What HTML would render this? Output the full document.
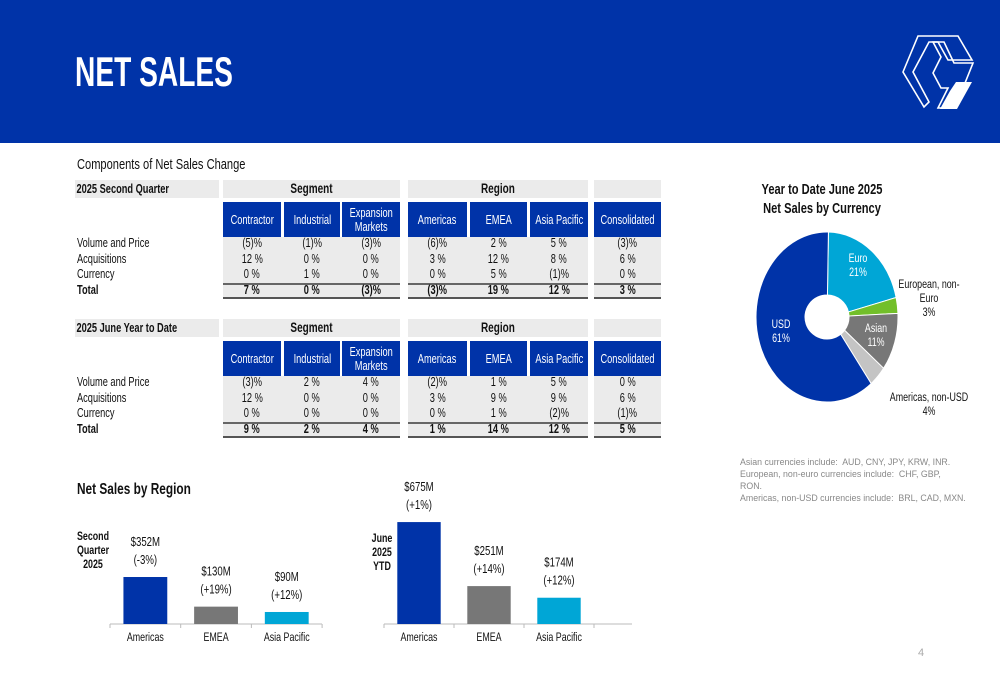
<!DOCTYPE html>
<html><head><meta charset="utf-8">
<style>
*{margin:0;padding:0;box-sizing:border-box}
body{width:1000px;height:685px;background:#fff;position:relative;overflow:hidden;font-family:"Liberation Sans",sans-serif;color:#111}
.a{position:absolute}
.n{display:inline-block;transform:scaleX(0.74);white-space:nowrap}
.nl{display:inline-block;transform:scaleX(0.74);transform-origin:left center;white-space:nowrap}
.hdr{left:0;top:0;width:1000px;height:143px;background:#0033a8}
.title{left:75px;top:48px;font-size:42px;font-weight:bold;color:#fff;transform:scaleX(0.67);transform-origin:left top;white-space:nowrap}
.c{position:absolute;text-align:center;font-size:12.5px;line-height:16px}
.g{background:#ebebeb}
.b{background:#0033a8;color:#fff;display:flex;align-items:center;justify-content:center;text-align:center;font-size:12.5px;line-height:14px}
.lbl{position:absolute;left:77px;font-size:12.5px;line-height:16px}
.foot{left:740px;top:456px;font-size:8.8px;line-height:12px;color:#888;white-space:nowrap}
</style></head><body>
<div class="a hdr"></div>
<div class="a title">NET SALES</div>
<svg class="a" style="left:900px;top:33px" width="75" height="78" viewBox="0 0 75 78">
<polygon points="18,3 58,3 72,27 48,27 38,9 29,9 13,39 29,69 24,74 3,39" fill="none" stroke="#fff" stroke-width="1.6"/>
<polygon points="33,9 44,9 54,30 73,30 55,75 38,75 48,55 41,55 33,40 41,24" fill="none" stroke="#fff" stroke-width="1.6"/>
<polygon points="56,49 72,49 57,76 40,76 50,58" fill="#fff"/>
</svg>
<div class="a" style="left:77px;top:156px;font-size:15px"><span class="nl">Components of Net Sales Change</span></div>
<div id="tables"></div>

<svg class="a" style="left:730px;top:170px" width="270" height="260" id="pie"></svg>
<div class="a foot">Asian currencies include:&nbsp; AUD, CNY, JPY, KRW, INR.<br>European, non-euro currencies include:&nbsp; CHF, GBP,<br>RON.<br>Americas, non-USD currencies include:&nbsp; BRL, CAD, MXN.</div>

<div class="a" style="left:77px;top:481px;font-size:16px;font-weight:bold"><span class="nl">Net Sales by Region</span></div>
<svg class="a" style="left:0;top:470px" width="700" height="190" id="bars"></svg>
<div class="a" style="left:918px;top:647px;font-size:11px;color:#aaa">4</div>

<script>
// ---- table data ----
const colNames=["Contractor","Industrial","Expansion Markets","Americas","EMEA","Asia Pacific","Consolidated"];
const rowNames=["Volume and Price","Acquisitions","Currency","Total"];
const q2Values=[["(5)%","(1)%","(3)%","(6)%","2 %","5 %","(3)%"],["12 %","0 %","0 %","3 %","12 %","8 %","6 %"],["0 %","1 %","0 %","0 %","5 %","(1)%","0 %"],["7 %","0 %","(3)%","(3)%","19 %","12 %","3 %"]];
const ytdValues=[["(3)%","2 %","4 %","(2)%","1 %","5 %","0 %"],["12 %","0 %","0 %","3 %","9 %","9 %","6 %"],["0 %","0 %","0 %","0 %","1 %","(2)%","(1)%"],["9 %","2 %","4 %","1 %","14 %","12 %","5 %"]];
// ---- pie data ----
const pieLabels=["Euro","European, non-Euro","Asian","Americas, non-USD","USD"];
const pieValues=[21,3,11,4,61];
const pieColors=["#00a6d6","#72bf2a","#777777","#c4c4c4","#0033a8"];
// ---- bar data ----
const barCats=["Americas","EMEA","Asia Pacific"];
const q2Sales=[352,130,90];
const q2Change=["(-3%)","(+19%)","(+12%)"];
const ytdSales=[675,251,174];
const ytdChange=["(+1%)","(+14%)","(+12%)"];
const barColors=["#0033a8","#777777","#00a6d6"];

const S=0.74;
const T=document.getElementById('tables');
const cols=[[223,58],[284,56],[342,58],[408,59],[470,57],[530,58],[594,67]];
function n(s){return '<span class="n">'+s+'</span>';}
function mk(cls,l,t,w,h,txt,name,extra){const d=document.createElement('div');d.className=cls;d.style.cssText=`left:${l}px;top:${t}px;width:${w}px;height:${h}px;`+(extra||'');d.innerHTML=txt;


T.appendChild(d);return d;}
function table(y0,title,vals,key){
 mk('a g',75,y0,144,18,`<span class="nl" style="font-size:12.5px;font-weight:bold;line-height:18px;padding-left:2px">${title}</span>`,key+'-title');
 mk('a g c',223,y0,177,18,'<b style="font-size:13.5px;line-height:18px">'+n('Segment')+'</b>',key+'-segment-header','line-height:18px');
 mk('a g c',408,y0,180,18,'<b style="font-size:13.5px;line-height:18px">'+n('Region')+'</b>',key+'-region-header','line-height:18px');
 mk('a g c',594,y0,67,18,'',key+'-consolidated-header-blank');
 colNames.forEach((nm,i)=>{const txt=nm==="Expansion Markets"?n("Expansion<br>Markets"):n(nm);
  mk('a b',cols[i][0],y0+22,cols[i][1],35,txt,key+'-col-'+nm.toLowerCase().replace(/ /g,'-'));});
 [[223,177],[408,180],[594,67]].forEach((g,j)=>{mk('a g',g[0],y0+57,g[1],60,'',key+'-data-bg-'+j);
   mk('a',g[0],y0+103,g[1],1,'',key+'-total-line-top-'+j,'background:#666;height:1.5px');
   mk('a',g[0],y0+117,g[1],1,'',key+'-total-line-bottom-'+j,'background:#555;height:2px');});
 rowNames.forEach((r,ri)=>{const y=y0+55+ri*15.5;
  const d=document.createElement('div');d.className='lbl';d.style.top=y+'px';d.style.fontWeight=ri==3?'bold':'normal';d.innerHTML='<span class="nl">'+r+'</span>';
  
  
  T.appendChild(d);
  vals[ri].forEach((v,ci)=>{mk('c',cols[ci][0],y,cols[ci][1],16,n(v),key+'-cell',ri==3?'font-weight:bold':'');});
 });
}
table(180,'2025 Second Quarter',q2Values,'q2');
table(319,'2025 June Year to Date',ytdValues,'ytd');

const NS='http://www.w3.org/2000/svg';
function stext(parent,x,y,s,fs,fill,bold,name){const e=document.createElementNS(NS,'text');
 e.setAttribute('x',x);e.setAttribute('y',y);e.setAttribute('text-anchor','middle');
 e.setAttribute('font-size',fs);e.setAttribute('fill',fill);e.setAttribute('font-family','Liberation Sans,sans-serif');
 if(bold)e.setAttribute('font-weight','bold');
 e.setAttribute('transform',`matrix(${S},0,0,1,${x*(1-S)},0)`);
 e.textContent=s;
 
 
 parent.appendChild(e);}

// pie
const P=document.getElementById('pie');
stext(P,92,24,'Year to Date June 2025',15,'#111',1,'pie-title-line1');
stext(P,92,43,'Net Sales by Currency',15,'#111',1,'pie-title-line2');
const cx=97,cy=147,rx=71,ry=85,hr=22;
const total=pieValues.reduce((a,b)=>a+b,0);
let ang=0.02;
pieValues.forEach((v,i)=>{
 const a0=ang,a1=ang+v/total*2*Math.PI;ang=a1;
 const pt=(a,r1,r2)=>[cx+r1*Math.sin(a),cy-r2*Math.cos(a)];
 const [x0,y0]=pt(a0,rx,ry),[x1,y1]=pt(a1,rx,ry),[h0x,h0y]=pt(a1,hr,hr),[h1x,h1y]=pt(a0,hr,hr);
 const lg=(a1-a0)>Math.PI?1:0;
 const p=document.createElementNS(NS,'path');
 p.setAttribute('d',`M${x0},${y0} A${rx},${ry} 0 ${lg} 1 ${x1},${y1} L${h0x},${h0y} A${hr},${hr} 0 ${lg} 0 ${h1x},${h1y} Z`);
 p.setAttribute('fill',pieColors[i]);p.setAttribute('stroke','#fff');p.setAttribute('stroke-width','1');
 
 
 P.appendChild(p);
});
const pieText=[[128,92,["Euro","21%"],"#fff"],[199,118,["European, non-","Euro","3%"],"#111"],[146,162,["Asian","11%"],"#fff"],[199,231,["Americas, non-USD","4%"],"#111"],[51,158,["USD","61%"],"#fff"]];
pieText.forEach((t,i)=>{t[2].forEach((s,k)=>stext(P,t[0],t[1]+k*14,s,12,t[3],0,'pie-label-'+i));});

// bars
const B=document.getElementById('bars');
const base=154;
function line(x1,y1,x2,y2,name){const l=document.createElementNS(NS,'line');l.setAttribute('x1',x1);l.setAttribute('x2',x2);l.setAttribute('y1',y1);l.setAttribute('y2',y2);l.setAttribute('stroke','#bbb');
 
 
 B.appendChild(l);}
function chart(x0,step,axisW,scale,vals,chg,key){
 line(x0,base,x0+axisW,base,key+'-x-axis');
 vals.forEach((v,i)=>{const bx=x0+step*i+step*0.19,bw=step*0.62,h=v*scale;
  const r=document.createElementNS(NS,'rect');r.setAttribute('x',bx);r.setAttribute('y',base-h);r.setAttribute('width',bw);r.setAttribute('height',h);r.setAttribute('fill',barColors[i]);
  
  
  B.appendChild(r);
  const cxm=bx+bw/2;
  stext(B,cxm,base-h-31,'$'+v+'M',13,'#111',0,key+'-value-label');
  stext(B,cxm,base-h-13,chg[i],13,'#111',0,key+'-change-label');
  stext(B,cxm,base+17,barCats[i],12,'#111',0,key+'-category-label');
  line(x0+step*i,base,x0+step*i,base+4,key+'-tick');
 });
 line(x0+step*3,base,x0+step*3,base+4,key+'-tick');
}
chart(110,70.7,212,0.1335,q2Sales,q2Change,'q2');
chart(384,70,248,0.151,ytdSales,ytdChange,'ytd');
[["Second",70],["Quarter",84],["2025",98]].forEach(s=>stext(B,93,s[1],s[0],12,'#111',1,'q2-chart-label'));
[["June",72],["2025",86],["YTD",100]].forEach(s=>stext(B,382,s[1],s[0],12,'#111',1,'ytd-chart-label'));
</script>
</body></html>
